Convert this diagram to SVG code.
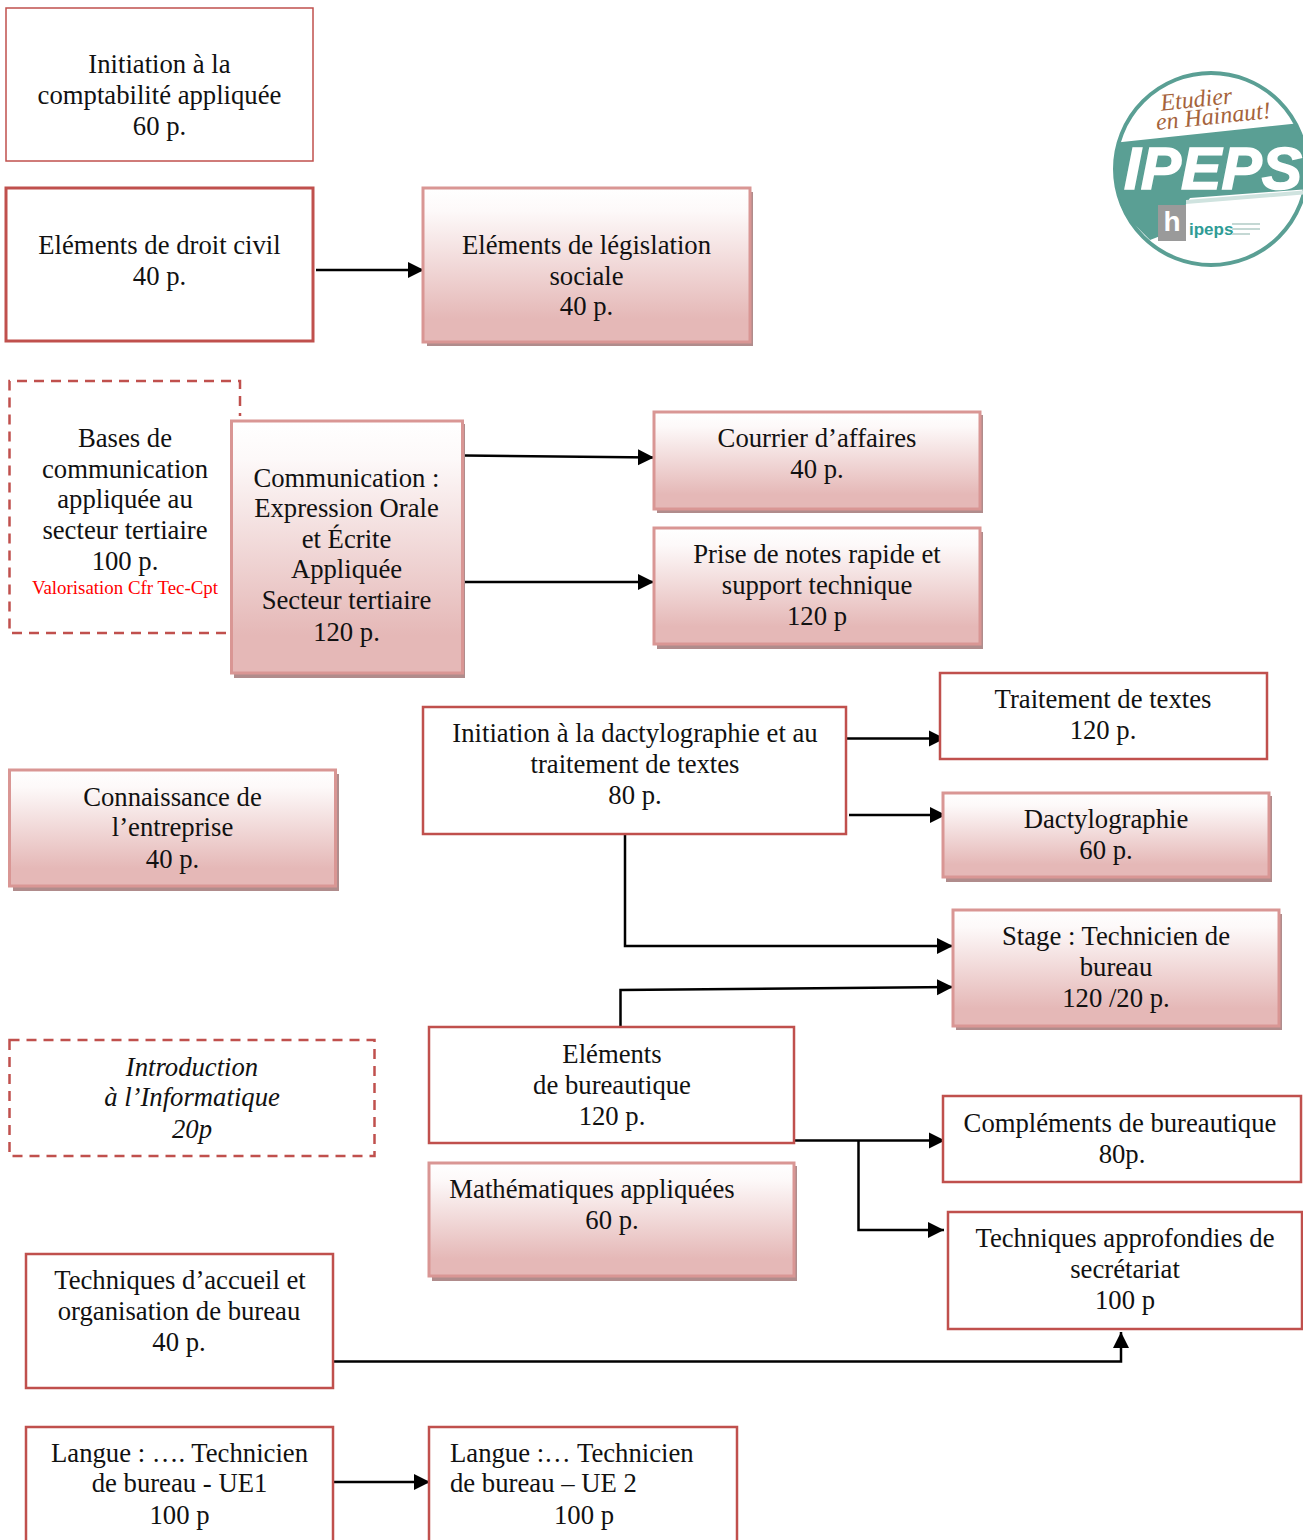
<svg xmlns="http://www.w3.org/2000/svg" width="1303" height="1540" viewBox="0 0 1303 1540">
<style>
text{font-family:"Liberation Serif","Times New Roman",serif;font-size:26.7px;fill:#111;text-anchor:middle}
.p{fill:#fff;stroke:#c0504d;stroke-width:2.5}
.d{fill:#fff;stroke:#c0504d;stroke-width:2.5;stroke-dasharray:10 7}
.g{fill:url(#grad);stroke:#d99694;stroke-width:3}
.s{fill:#b08c8c}
.c{fill:none;stroke:#000;stroke-width:2.5}
.l{font-family:"Liberation Sans",Arial,sans-serif}
.h{font-size:24px;font-style:italic;fill:#a5633b}
</style>
<defs>
<linearGradient id="grad" x1="0" y1="0" x2="0" y2="1"><stop offset="0" stop-color="#fff"/><stop offset=".15" stop-color="#fdf9f9"/><stop offset=".85" stop-color="#e5b8b7"/><stop offset="1" stop-color="#e5b8b7"/></linearGradient>
<marker id="a" markerUnits="userSpaceOnUse" markerWidth="18" markerHeight="18" refX="16" refY="8.500" orient="auto"><path d="M0 0.500L16 8.500L0 16.500Z" fill="#000"/></marker>
<clipPath id="lc"><circle cx="1211" cy="169" r="96"/></clipPath>
</defs>

<g id="connectors">
<path class="c" marker-end="url(#a)" d="M316 270H424"/>
<path class="c" marker-end="url(#a)" d="M464 455.500L654 457.500"/>
<path class="c" marker-end="url(#a)" d="M464 582H654"/>
<path class="c" marker-end="url(#a)" d="M847 738.500H945"/>
<path class="c" marker-end="url(#a)" d="M849 815H946"/>
<path class="c" marker-end="url(#a)" d="M625 834V946H953"/>
<path class="c" marker-end="url(#a)" d="M620.500 1027V990L953 987"/>
<path class="c" marker-end="url(#a)" d="M794 1140.500H945"/>
<path class="c" marker-end="url(#a)" d="M858.500 1141V1230H944"/>
<path class="c" marker-end="url(#a)" d="M333 1361.500H1121V1332"/>
<path class="c" marker-end="url(#a)" d="M333 1482H430"/>
</g>

<g id="n1"><rect class="p" x="6" y="8" width="307" height="153" style="stroke-width:1.500"/><text x="159.500" y="73">Initiation à la</text><text x="159.500" y="103.500">comptabilité appliquée</text><text x="159.500" y="135">60 p.</text></g>
<g id="n2"><rect class="p" x="6" y="188" width="307" height="153" style="stroke-width:3"/><text x="159.500" y="254">Eléments de droit civil</text><text x="159.500" y="285">40 p.</text></g>
<g id="n3"><rect class="s" x="427" y="192" width="326" height="154"/><rect class="g" x="423" y="188" width="327" height="154"/><text x="586.500" y="254">Eléments de législation</text><text x="586.500" y="284.500">sociale</text><text x="586.500" y="315">40 p.</text></g>
<g id="n4"><path class="d" d="M226 633H9.500V381H240V416"/><text x="125" y="447">Bases de</text><text x="125" y="478">communication</text><text x="125" y="508">appliquée au</text><text x="125" y="539">secteur tertiaire</text><text x="125" y="570">100 p.</text><text x="125" y="594" style="font-size:18.900px;fill:#f00">Valorisation Cfr Tec-Cpt</text></g>
<g id="n5"><rect class="s" x="234" y="424" width="231" height="254"/><rect class="g" x="231.500" y="421" width="231" height="252"/><text x="346.500" y="487">Communication :</text><text x="346.500" y="517">Expression Orale</text><text x="346.500" y="548">et Écrite</text><text x="346.500" y="578">Appliquée</text><text x="346.500" y="609">Secteur tertiaire</text><text x="346.500" y="641">120 p.</text></g>
<g id="n6"><rect class="s" x="657" y="415" width="326" height="98"/><rect class="g" x="654" y="412" width="326" height="97"/><text x="817" y="447">Courrier d’affaires</text><text x="817" y="478">40 p.</text></g>
<g id="n7"><rect class="s" x="657" y="532" width="326" height="117"/><rect class="g" x="654" y="528" width="326" height="116"/><text x="817" y="563">Prise de notes rapide et</text><text x="817" y="594">support technique</text><text x="817" y="625">120 p</text></g>
<g id="n8"><rect class="p" x="940" y="673" width="327" height="86"/><text x="1103" y="708">Traitement de textes</text><text x="1103" y="739">120 p.</text></g>
<g id="n9"><rect class="p" x="423" y="707" width="423" height="127"/><text x="635" y="742">Initiation à la dactylographie et au</text><text x="635" y="773">traitement de textes</text><text x="635" y="804">80 p.</text></g>
<g id="n10"><rect class="s" x="946" y="796" width="326" height="86"/><rect class="g" x="943" y="793" width="326" height="84"/><text x="1106" y="828">Dactylographie</text><text x="1106" y="859">60 p.</text></g>
<g id="n11"><rect class="s" x="13" y="774" width="326" height="117"/><rect class="g" x="9.500" y="770" width="326" height="116"/><text x="172.500" y="806">Connaissance de</text><text x="172.500" y="836">l’entreprise</text><text x="172.500" y="868">40 p.</text></g>
<g id="n12"><rect class="s" x="956" y="914" width="326" height="116"/><rect class="g" x="953" y="910" width="326" height="116"/><text x="1116" y="945">Stage : Technicien de</text><text x="1116" y="976">bureau</text><text x="1116" y="1007">120 /20 p.</text></g>
<g id="n13"><rect class="d" x="9.500" y="1040" width="365" height="116"/><g style="font-style:italic"><text x="192" y="1076">Introduction</text><text x="192" y="1106">à l’Informatique</text><text x="192" y="1138">20p</text></g></g>
<g id="n14"><rect class="p" x="429" y="1027" width="365" height="116"/><text x="612" y="1063">Eléments</text><text x="612" y="1094">de bureautique</text><text x="612" y="1125">120 p.</text></g>
<g id="n15"><rect class="p" x="943" y="1096" width="358" height="86"/><text x="1120" y="1132">Compléments de bureautique</text><text x="1122" y="1163">80p.</text></g>
<g id="n16"><rect class="s" x="432" y="1166" width="365" height="115"/><rect class="g" x="429" y="1163" width="365" height="113"/><text x="592" y="1198">Mathématiques appliquées</text><text x="612" y="1229">60 p.</text></g>
<g id="n17"><rect class="p" x="948" y="1212" width="354" height="117"/><text x="1125" y="1247">Techniques approfondies de</text><text x="1125" y="1278">secrétariat</text><text x="1125" y="1309">100 p</text></g>
<g id="n18"><rect class="p" x="26" y="1254" width="307" height="134"/><text x="180" y="1289">Techniques d’accueil et</text><text x="179" y="1320">organisation de bureau</text><text x="179" y="1351">40 p.</text></g>
<g id="n19"><rect class="p" x="26" y="1427" width="307" height="130"/><text x="179.500" y="1462">Langue : …. Technicien</text><text x="179.500" y="1492">de bureau - UE1</text><text x="179.500" y="1524">100 p</text></g>
<g id="n20"><rect class="p" x="429" y="1427" width="308" height="130"/><text x="450" y="1462" style="text-anchor:start">Langue :… Technicien</text><text x="450" y="1492" style="text-anchor:start">de bureau – UE 2</text><text x="584" y="1524">100 p</text></g>

<g id="logo">
<circle cx="1211" cy="169" r="96" fill="#fff" stroke="#5a9f94" stroke-width="4"/>
<g clip-path="url(#lc)">
<path d="M1112 143L1310 122V189L1190 198L1168 233L1150 240L1125 215L1112 195Z" fill="#5a9f94"/>
<path d="M1186 200L1310 190V194L1186 204Z" fill="#cfe3df"/>
<text x="1213" y="189" class="l" style="font-size:60px;font-weight:bold;font-style:italic;fill:#fff;stroke:#fff;stroke-width:1.500" textLength="178" lengthAdjust="spacingAndGlyphs">IPEPS</text>
</g>
<text x="1197" y="107" class="h" transform="rotate(-6 1197 107)">Etudier</text>
<text x="1214" y="124" class="h" transform="rotate(-6 1214 124)">en Hainaut!</text>
<rect x="1158" y="205" width="28" height="36" fill="#9a9a9a"/>
<text x="1172" y="231" class="l" style="font-size:28px;font-weight:bold;fill:#fff">h</text>
<rect x="1186" y="215" width="80" height="26" fill="#fff"/>
<text x="1189" y="235" class="l" style="font-size:17px;font-weight:bold;fill:#2f9c96;text-anchor:start">ipeps</text>
<path d="M1232 224h28M1232 229h28M1232 234h18" stroke="#c4d8d4" stroke-width="2"/>
</g>
</svg>
